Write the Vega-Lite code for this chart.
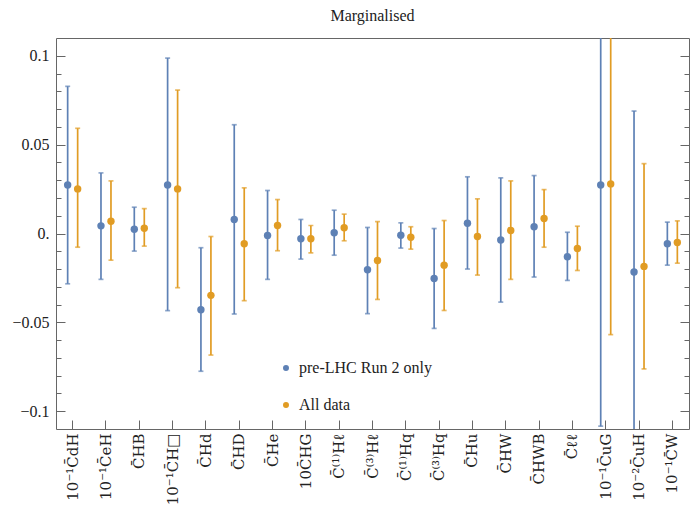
{
  "$schema": "https://vega.github.io/schema/vega-lite/v6.json",
  "width": 633,
  "height": 391,
  "autosize": "none",
  "padding": {"left": 56, "top": 38, "right": 4, "bottom": 77},
  "title": {"text": "Marginalised", "font": "Liberation Serif", "fontSize": 16, "fontWeight": "normal", "color": "#222", "anchor": "middle", "offset": 14},
  "config": {
    "view": {"stroke": "#666", "strokeWidth": 1},
    "axis": {"labelFont": "Liberation Serif", "labelFontSize": 16, "labelColor": "#222", "tickColor": "#666", "domain": false, "grid": false, "title": null, "labelOverlap": false}
  },
  "data": {"values": [
    {"cat": "10⁻¹C̄dH", "series": "pre-LHC Run 2 only", "val": 0.0273, "lo": -0.0283, "hi": 0.0828},
    {"cat": "10⁻¹C̄dH", "series": "All data", "val": 0.0251, "lo": -0.0077, "hi": 0.0592},
    {"cat": "10⁻¹C̄eH", "series": "pre-LHC Run 2 only", "val": 0.0043, "lo": -0.0258, "hi": 0.0341},
    {"cat": "10⁻¹C̄eH", "series": "All data", "val": 0.0069, "lo": -0.0150, "hi": 0.0296},
    {"cat": "C̄HB", "series": "pre-LHC Run 2 only", "val": 0.0024, "lo": -0.0099, "hi": 0.0148},
    {"cat": "C̄HB", "series": "All data", "val": 0.0030, "lo": -0.0071, "hi": 0.0140},
    {"cat": "10⁻¹C̄H□", "series": "pre-LHC Run 2 only", "val": 0.0273, "lo": -0.0434, "hi": 0.0987},
    {"cat": "10⁻¹C̄H□", "series": "All data", "val": 0.0251, "lo": -0.0305, "hi": 0.0807},
    {"cat": "C̄Hd", "series": "pre-LHC Run 2 only", "val": -0.0429, "lo": -0.0775, "hi": -0.0080},
    {"cat": "C̄Hd", "series": "All data", "val": -0.0348, "lo": -0.0684, "hi": -0.0017},
    {"cat": "C̄HD", "series": "pre-LHC Run 2 only", "val": 0.0079, "lo": -0.0453, "hi": 0.0612},
    {"cat": "C̄HD", "series": "All data", "val": -0.0058, "lo": -0.0378, "hi": 0.0257},
    {"cat": "C̄He", "series": "pre-LHC Run 2 only", "val": -0.0011, "lo": -0.0258, "hi": 0.0242},
    {"cat": "C̄He", "series": "All data", "val": 0.0045, "lo": -0.0097, "hi": 0.0191},
    {"cat": "10C̄HG", "series": "pre-LHC Run 2 only", "val": -0.0030, "lo": -0.0144, "hi": 0.0079},
    {"cat": "10C̄HG", "series": "All data", "val": -0.0030, "lo": -0.0109, "hi": 0.0045},
    {"cat": "C̄⁽¹⁾Hℓ", "series": "pre-LHC Run 2 only", "val": 0.0004, "lo": -0.0122, "hi": 0.0131},
    {"cat": "C̄⁽¹⁾Hℓ", "series": "All data", "val": 0.0032, "lo": -0.0041, "hi": 0.0109},
    {"cat": "C̄⁽³⁾Hℓ", "series": "pre-LHC Run 2 only", "val": -0.0204, "lo": -0.0451, "hi": 0.0034},
    {"cat": "C̄⁽³⁾Hℓ", "series": "All data", "val": -0.0152, "lo": -0.0371, "hi": 0.0067},
    {"cat": "C̄⁽¹⁾Hq", "series": "pre-LHC Run 2 only", "val": -0.0010, "lo": -0.0082, "hi": 0.0060},
    {"cat": "C̄⁽¹⁾Hq", "series": "All data", "val": -0.0021, "lo": -0.0088, "hi": 0.0038},
    {"cat": "C̄⁽³⁾Hq", "series": "pre-LHC Run 2 only", "val": -0.0253, "lo": -0.0534, "hi": 0.0028},
    {"cat": "C̄⁽³⁾Hq", "series": "All data", "val": -0.0178, "lo": -0.0433, "hi": 0.0073},
    {"cat": "C̄Hu", "series": "pre-LHC Run 2 only", "val": 0.0058, "lo": -0.0200, "hi": 0.0319},
    {"cat": "C̄Hu", "series": "All data", "val": -0.0017, "lo": -0.0234, "hi": 0.0195},
    {"cat": "C̄HW", "series": "pre-LHC Run 2 only", "val": -0.0037, "lo": -0.0386, "hi": 0.0313},
    {"cat": "C̄HW", "series": "All data", "val": 0.0017, "lo": -0.0258, "hi": 0.0296},
    {"cat": "C̄HWB", "series": "pre-LHC Run 2 only", "val": 0.0038, "lo": -0.0245, "hi": 0.0326},
    {"cat": "C̄HWB", "series": "All data", "val": 0.0084, "lo": -0.0077, "hi": 0.0247},
    {"cat": "C̄ℓℓ", "series": "pre-LHC Run 2 only", "val": -0.0131, "lo": -0.0264, "hi": 0.0007},
    {"cat": "C̄ℓℓ", "series": "All data", "val": -0.0084, "lo": -0.0208, "hi": 0.0041},
    {"cat": "10⁻¹C̄uG", "series": "pre-LHC Run 2 only", "val": 0.0273, "lo": -0.1084, "hi": 0.163},
    {"cat": "10⁻¹C̄uG", "series": "All data", "val": 0.0279, "lo": -0.0569, "hi": 0.1127},
    {"cat": "10⁻²C̄uH", "series": "pre-LHC Run 2 only", "val": -0.0217, "lo": -0.1123, "hi": 0.0689},
    {"cat": "10⁻²C̄uH", "series": "All data", "val": -0.0185, "lo": -0.0762, "hi": 0.0393},
    {"cat": "10⁻¹C̄W", "series": "pre-LHC Run 2 only", "val": -0.0058, "lo": -0.0178, "hi": 0.0064},
    {"cat": "10⁻¹C̄W", "series": "All data", "val": -0.0051, "lo": -0.0167, "hi": 0.0071}
  ]},
  "resolve": {"axis": {"y": "independent"}},
  "layer": [
    {
      "encoding": {
        "x": {"field": "cat", "type": "nominal", "sort": null, "scale": {"paddingInner": 0, "paddingOuter": 0},
              "axis": {"labelAngle": -90, "labelAlign": "right", "labelBaseline": "middle", "labelPadding": 13, "tickSize": -9, "labelLimit": 0, "labelFont": "DejaVu Serif", "labelFontSize": 15}},
        "xOffset": {"field": "series", "type": "nominal", "sort": ["pre-LHC Run 2 only", "All data"], "scale": {"paddingInner": 0, "paddingOuter": 0.667}},
        "color": {"field": "series", "type": "nominal", "sort": ["pre-LHC Run 2 only", "All data"],
                  "scale": {"domain": ["pre-LHC Run 2 only", "All data"], "range": ["#5e81b5", "#e19c24"]},
                  "legend": {"title": null, "orient": "none", "legendX": 222, "legendY": 322, "symbolType": "circle", "symbolSize": 20,
                             "labelFont": "Liberation Serif", "labelFontSize": 16, "labelColor": "#222", "rowPadding": 21, "labelOffset": 5, "padding": 0}}
      },
      "layer": [
        {
          "mark": {"type": "point", "filled": true, "size": 55, "opacity": 1, "clip": true},
          "encoding": {
            "y": {"field": "val", "type": "quantitative", "scale": {"domain": [-0.11, 0.11], "nice": false, "zero": false},
                  "axis": {"values": [-0.1,-0.09,-0.08,-0.07,-0.06,-0.05,-0.04,-0.03,-0.02,-0.01,0,0.01,0.02,0.03,0.04,0.05,0.06,0.07,0.08,0.09,0.1],
                           "tickCount": 60,
                           "labelExpr": "abs(datum.value) < 0.001 ? '0.' : ((abs(datum.value) > 0.099 || abs(abs(datum.value) - 0.05) < 0.001) ? format(datum.value, '~g') : '')",
                           "tickDash": {"condition": {"test": "abs(datum.value) < 0.001 || abs(datum.value) > 0.099 || abs(abs(datum.value) - 0.05) < 0.001", "value": [20, 0]}, "value": [5, 20]},
                           "tickSize": -9, "labelPadding": 16}}
          }
        },
        {
          "mark": {"type": "rule", "strokeWidth": 1.7, "clip": true},
          "encoding": {
            "y": {"field": "lo", "type": "quantitative"},
            "y2": {"field": "hi"}
          }
        },
        {
          "mark": {"type": "tick", "size": 5, "thickness": 1.7, "clip": true},
          "encoding": {
            "y": {"field": "lo", "type": "quantitative"}
          }
        },
        {
          "mark": {"type": "tick", "size": 5, "thickness": 1.7, "clip": true},
          "encoding": {
            "y": {"field": "hi", "type": "quantitative"}
          }
        }
      ]
    },
    {
      "mark": {"type": "point", "opacity": 0},
      "encoding": {
        "y": {"field": "val", "type": "quantitative", "scale": {"domain": [-0.11, 0.11], "nice": false, "zero": false},
              "axis": {"orient": "right", "labels": false, "tickSize": -9, "tickCount": 60,
                       "values": [-0.1,-0.09,-0.08,-0.07,-0.06,-0.05,-0.04,-0.03,-0.02,-0.01,0,0.01,0.02,0.03,0.04,0.05,0.06,0.07,0.08,0.09,0.1],
                       "tickDash": {"condition": {"test": "abs(datum.value) < 0.001 || abs(datum.value) > 0.099 || abs(abs(datum.value) - 0.05) < 0.001", "value": [20, 0]}, "value": [5, 20]}}}
      }
    }
  ]
}
